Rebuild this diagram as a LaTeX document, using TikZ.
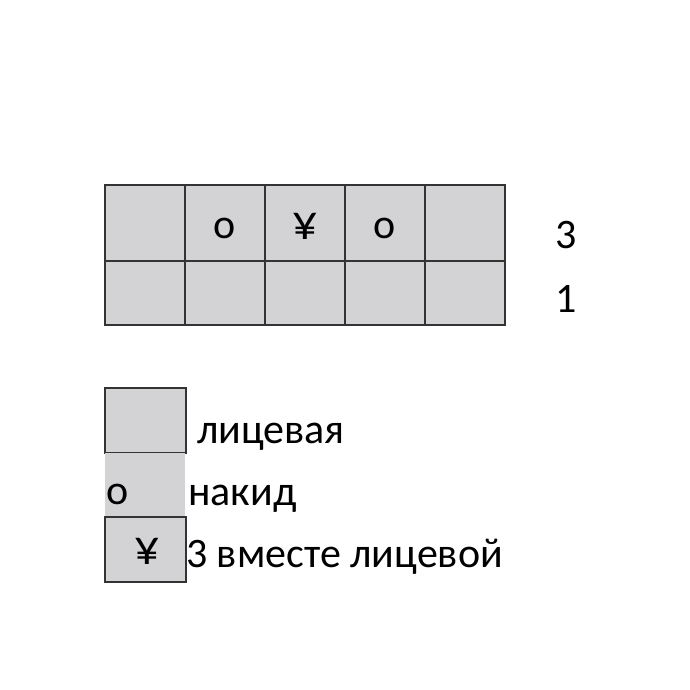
\documentclass[tikz,border=0pt]{standalone}
\usepackage{fontspec}
\setmainfont{Carlito}
\usetikzlibrary{positioning}

\definecolor{stitchgray}{RGB}{211,210,212}
\tikzset{
	cell/.style={draw=black!80, line width=1.6pt, fill=stitchgray, minimum width=80pt, minimum height=76pt, inner sep=0pt, outer sep=0pt},
	lowcell/.style={cell, minimum height=64pt},
	sym/.style={inner sep=0pt, anchor=base, font=\fontsize{42}{46}\selectfont},
	yen/.style={sym, font=\fontsize{50}{54}\selectfont},
	txt/.style={inner sep=0pt, anchor=base west, font=\fontsize{42}{46}\selectfont}
}

\begin{document}
\begin{tikzpicture}[x=1pt, y=-1pt]
	\useasboundingbox (0,0) rectangle (690,690);

	% chart rows
	\node[cell] (a1) [anchor=north west] at (105,185) {};
	\node[cell] (a2) [right=0pt of a1] {};
	\node[cell] (a3) [right=0pt of a2] {};
	\node[cell] (a4) [right=0pt of a3] {};
	\node[cell] (a5) [right=0pt of a4] {};
	\node[lowcell] (b1) [below=0pt of a1] {};
	\node[lowcell] (b2) [right=0pt of b1] {};
	\node[lowcell] (b3) [right=0pt of b2] {};
	\node[lowcell] (b4) [right=0pt of b3] {};
	\node[lowcell] (b5) [right=0pt of b4] {};

	\node[sym] (yo1) at (a2.center |- 0,238) {о};
	\node[yen] (yk) at (a3.center |- 0,239) {¥};
	\node[sym] (yo2) at (a4.center |- 0,238) {о};

	\node[sym] (row3) at (566,248) {3};
	\node[sym] (row1) at (566,312) {1};

	% legend
	\node[cell, minimum height=65pt, minimum width=81pt] (kn) [anchor=north west] at (105,388) {};
	\node[cell, draw=none, minimum height=64pt] (yo) [below=0pt of kn.south west, anchor=north west] {};
	\node[cell, minimum height=65pt, minimum width=81pt] (k3) [below=0pt of yo.south west, anchor=north west] {};

	\node[sym] (yoleg) at (118,504) {о};
	\node[yen] (k3leg) at (147,564) {¥};

	\node[txt] (knt) at (197,443) {лицевая};
	\node[txt] (yot) at (188,505) {накид};
	\node[txt] (k3t) at (186,567) {3 вместе лицевой};
\end{tikzpicture}
\end{document}
